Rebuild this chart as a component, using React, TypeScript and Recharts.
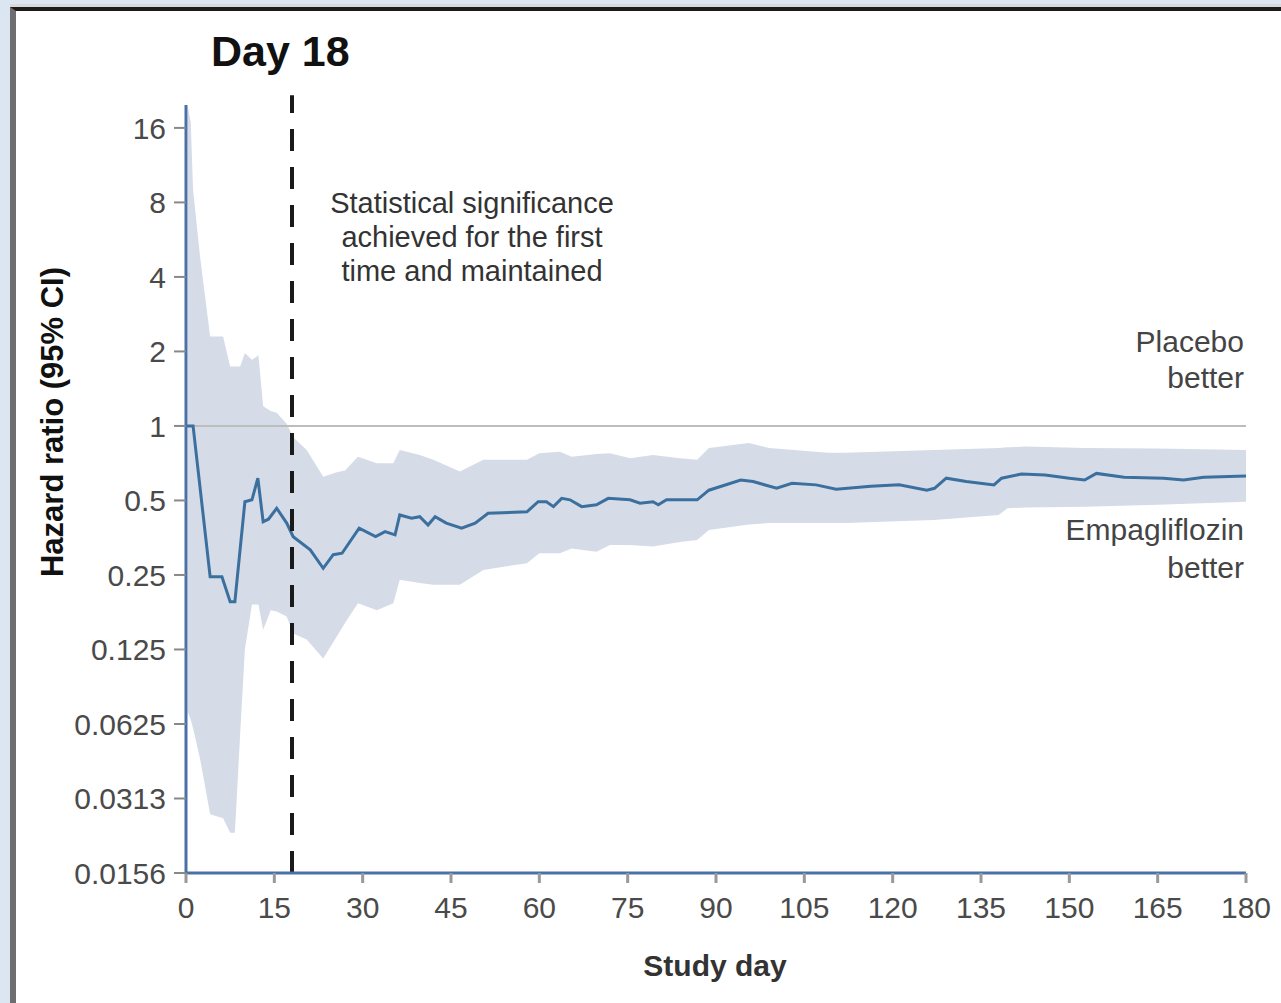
import React from 'react';
import { ComposedChart, Line, Area, XAxis, YAxis, ReferenceLine } from 'recharts';

// Hazard ratio point estimate
const lineDays = [0, 1.2, 4.1, 6.1, 7.5, 8.3, 10, 11.2, 12.2, 13.1, 14, 15.4, 17.1, 18.2, 21.1, 23.3, 25, 26.5, 29.4, 32.2, 33.8, 35.5, 36.3, 38.3, 39.7, 41.1, 42.3, 44.2, 46.8, 49.1, 51.3, 57.9, 59.8, 61.2, 62.4, 63.8, 65.2, 67.2, 69.7, 71.7, 75.4, 77.1, 79.3, 80.2, 81.6, 84, 86.8, 88.8, 94.2, 96.3, 100.3, 102.9, 107, 110.4, 116.3, 121.1, 125.8, 127.1, 129.1, 132.5, 137.2, 138.5, 141.9, 145.9, 150, 152.6, 154.6, 159.3, 166, 169.4, 172.8, 180];
const lineHR = [1, 1, 0.246, 0.246, 0.195, 0.195, 0.494, 0.503, 0.615, 0.41, 0.42, 0.465, 0.405, 0.357, 0.316, 0.266, 0.302, 0.306, 0.386, 0.357, 0.374, 0.363, 0.437, 0.424, 0.43, 0.398, 0.43, 0.405, 0.386, 0.405, 0.444, 0.45, 0.494, 0.494, 0.472, 0.51, 0.503, 0.472, 0.48, 0.51, 0.503, 0.487, 0.494, 0.48, 0.503, 0.503, 0.503, 0.55, 0.605, 0.596, 0.56, 0.587, 0.578, 0.555, 0.57, 0.578, 0.55, 0.56, 0.615, 0.596, 0.578, 0.615, 0.64, 0.634, 0.615, 0.605, 0.643, 0.62, 0.615, 0.605, 0.62, 0.628];

// 95% CI band
const bandDays = [0.3, 0.8, 1.2, 2.4, 4.1, 6.3, 7.5, 8.3, 9.2, 10, 11.2, 12.3, 13.1, 14.4, 15.4, 17.1, 18.2, 20.5, 23.3, 25.6, 27, 29.2, 32.4, 35.2, 36.3, 39.7, 42, 46.5, 50.5, 57.9, 60, 63.5, 65.5, 69.7, 72, 75.4, 79.3, 83.9, 86.8, 88.8, 95.6, 99, 109, 112, 127, 138, 139.5, 142.5, 152.7, 165, 180];
const bandLow = [0.07, 0.065, 0.06, 0.045, 0.027, 0.026, 0.0227, 0.0227, 0.057, 0.125, 0.19, 0.19, 0.15, 0.18, 0.178, 0.17, 0.145, 0.137, 0.115, 0.141, 0.16, 0.192, 0.18, 0.192, 0.239, 0.232, 0.228, 0.228, 0.262, 0.279, 0.306, 0.306, 0.32, 0.31, 0.33, 0.33, 0.326, 0.34, 0.346, 0.38, 0.4, 0.405, 0.405, 0.405, 0.417, 0.437, 0.465, 0.468, 0.472, 0.48, 0.494];
const bandHigh = [19.5, 17, 9, 4.8, 2.3, 2.3, 1.74, 1.74, 1.74, 1.97, 1.85, 1.93, 1.2, 1.15, 1.13, 1.02, 0.9, 0.8, 0.624, 0.65, 0.66, 0.75, 0.706, 0.706, 0.8, 0.763, 0.73, 0.654, 0.73, 0.73, 0.776, 0.787, 0.75, 0.77, 0.776, 0.74, 0.763, 0.74, 0.73, 0.815, 0.854, 0.815, 0.78, 0.78, 0.8, 0.815, 0.82, 0.825, 0.815, 0.81, 0.8];

const xTicks = [0, 15, 30, 45, 60, 75, 90, 105, 120, 135, 150, 165, 180];
const yTicks = [16, 8, 4, 2, 1, 0.5, 0.25, 0.125, 0.0625, 0.03125, 0.015625];
const yTickLabels = ['16', '8', '4', '2', '1', '0.5', '0.25', '0.125', '0.0625', '0.0313', '0.0156'];

const significanceDay = 18;

const lineData = lineDays.map((d, i) => ({ day: d, hr: lineHR[i] }));
const bandData = bandDays.map((d, i) => ({ day: d, ci: [bandLow[i], bandHigh[i]] }));

const FONT = 'Arial, "Liberation Sans", Helvetica, sans-serif';

export default function App() {
  const yFmt = (v: number) => {
    const idx = yTicks.findIndex((t) => Math.abs(t - v) < 1e-9);
    return idx >= 0 ? yTickLabels[idx] : String(v);
  };
  return (
    <div style={{ position: 'absolute', left: 0, top: 0, width: 1281, height: 1003, background: '#dce6f2', overflow: 'hidden', fontFamily: FONT }}>
      <div style={{ position: 'absolute', left: 10, top: 4, right: 0, bottom: 0, background: '#d9d9d9' }} />
      <div style={{ position: 'absolute', left: 10, top: 7, right: 0, bottom: 0, background: '#ffffff', borderTop: '4px solid #1c1c1c', borderLeft: '6px solid #6e6e6e' }} />
      <div style={{ position: 'absolute', left: 0, top: 0 }}>
        <ComposedChart width={1281} height={1003} margin={{ top: 105, right: 35, bottom: 70, left: 0 }}>
          <XAxis
            type="number"
            dataKey="day"
            domain={[0, 180]}
            ticks={xTicks}
            allowDataOverflow
            height={60}
            axisLine={{ stroke: '#4a70a8', strokeWidth: 3 }}
            tickLine={{ stroke: '#999', strokeWidth: 3 }}
            tickSize={10}
            tickMargin={14}
            tick={{ fill: '#4a4a4a', fontSize: 30, fontFamily: FONT }}
          />
          <YAxis
            type="number"
            scale="log"
            domain={[0.015625, 19.8]}
            ticks={yTicks}
            allowDataOverflow
            width={186}
            interval={0}
            tickFormatter={yFmt}
            axisLine={{ stroke: '#4a70a8', strokeWidth: 3 }}
            tickLine={{ stroke: '#888', strokeWidth: 2 }}
            tickSize={12}
            tickMargin={8}
            tick={{ fill: '#4a4a4a', fontSize: 30, fontFamily: FONT }}
          />
          <Area
            data={bandData}
            dataKey="ci"
            type="linear"
            stroke="none"
            fill="#d5dce8"
            fillOpacity={1}
            isAnimationActive={false}
          />
          <ReferenceLine y={1} stroke="#bdbdbd" strokeWidth={2} />
          <Line
            data={lineData}
            dataKey="hr"
            type="linear"
            stroke="#3b6f9e"
            strokeWidth={3}
            dot={false}
            isAnimationActive={false}
          />
          <ReferenceLine
            segment={[{ x: significanceDay, y: 0.015625 }, { x: significanceDay, y: 21.7 }]}
            ifOverflow="visible"
            stroke="#1a1a1a"
            strokeWidth={4}
            strokeDasharray="22 16"
          />
        </ComposedChart>
      </div>
      <div style={{ position: 'absolute', left: 211, top: 26, fontSize: 43, fontWeight: 700, color: '#111', lineHeight: '50px', whiteSpace: 'nowrap' }}>Day 18</div>
      <div style={{ position: 'absolute', left: 272, top: 186, width: 400, textAlign: 'center', fontSize: 29, color: '#333', lineHeight: '34px' }}>
        Statistical significance<br />achieved for the first<br />time and maintained
      </div>
      <div style={{ position: 'absolute', right: 1281 - 1244, top: 324, textAlign: 'right', fontSize: 30, color: '#444', lineHeight: '36px', whiteSpace: 'nowrap' }}>
        Placebo<br />better
      </div>
      <div style={{ position: 'absolute', right: 1281 - 1244, top: 511, textAlign: 'right', fontSize: 30, color: '#444', lineHeight: '38px', whiteSpace: 'nowrap' }}>
        Empagliflozin<br />better
      </div>
      <div style={{ position: 'absolute', left: 615, top: 948, width: 200, textAlign: 'center', fontSize: 30, fontWeight: 700, color: '#333', lineHeight: '36px' }}>Study day</div>
      <div style={{ position: 'absolute', left: 53 - 200, top: 422 - 18, width: 400, height: 36, textAlign: 'center', fontSize: 31, fontWeight: 700, color: '#111', lineHeight: '36px', transform: 'rotate(-90deg)', transformOrigin: '200px 18px', whiteSpace: 'nowrap' }}>
        Hazard ratio (95% CI)
      </div>
    </div>
  );
}
